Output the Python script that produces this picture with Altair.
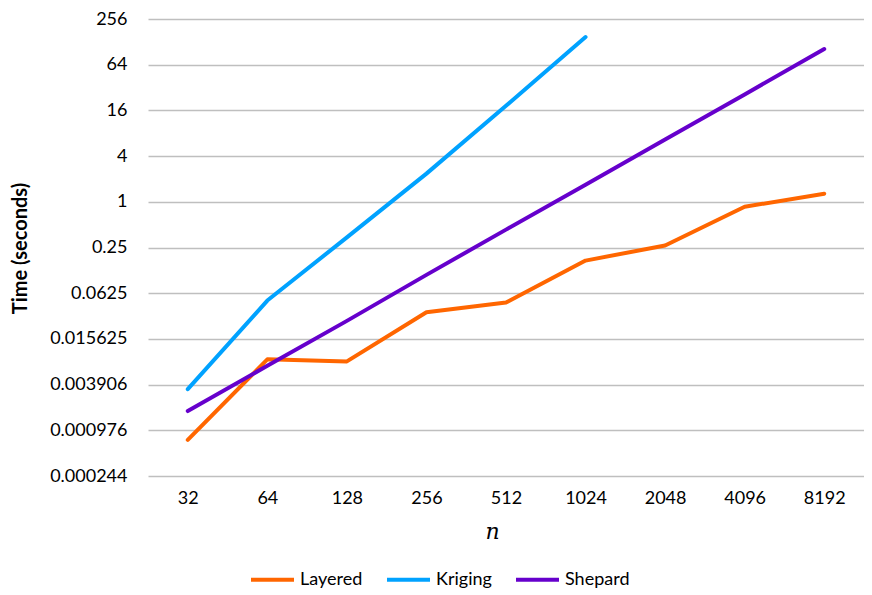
import altair as alt
import pandas as pd

n_values = ["32", "64", "128", "256", "512", "1024", "2048", "4096", "8192"]
layered = [0.00073, 0.0084, 0.0079, 0.035, 0.047, 0.168, 0.266, 0.86, 1.28]
kriging = [0.0034, 0.050, 0.34, 2.35, 18.4, 148, None, None, None]
shepard = [0.00175, 0.0069, 0.027, 0.109, 0.43, 1.68, 6.6, 26, 103]
series_names = ["Layered", "Kriging", "Shepard"]
series_colors = ["#FF6600", "#00A2FF", "#6600CC"]
tick_values = [2.0 ** k for k in range(-12, 9, 2)]
tick_labels = ["0.000244", "0.000976", "0.003906", "0.015625", "0.0625",
               "0.25", "1", "4", "16", "64", "256"]

rows = []
for name, vals in zip(series_names, [layered, kriging, shepard]):
    for n, v in zip(n_values, vals):
        if v is not None:
            rows.append({"n": n, "time": v, "series": name})
df = pd.DataFrame(rows)

expr = ""
for v, l in zip(tick_values, tick_labels):
    expr += f"abs(datum.value - {v!r}) < {v * 1e-6!r} ? '{l}' : "
expr += "''"

chart = alt.Chart(df).mark_line(strokeWidth=4, strokeJoin="round", strokeCap="round").encode(
    x=alt.X("n:O", sort=n_values,
            scale=alt.Scale(type="point", padding=0.5),
            axis=alt.Axis(title="n", labelAngle=0, domain=False, ticks=False,
                          labelPadding=13, titleFont="DejaVu Serif",
                          titleFontStyle="italic", titleFontWeight="normal",
                          titleFontSize=22, titleX=344, titleY=55,
                          titleBaseline="middle", grid=False)),
    y=alt.Y("time:Q",
            scale=alt.Scale(type="log", base=2, domain=[2.0 ** -12, 2.0 ** 8], nice=False),
            axis=alt.Axis(title="Time (seconds)", values=tick_values, labelExpr=expr,
                          domain=False, ticks=False, labelPadding=21,
                          grid=True, gridColor="#BFBFBF", gridWidth=1.3,
                          titleFontSize=20, titleFontWeight="bold",
                          titleX=-128, titleY=229, titleAngle=270,
                          titleAlign="center", titleBaseline="middle")),
    color=alt.Color("series:N",
                    scale=alt.Scale(domain=series_names, range=series_colors),
                    legend=alt.Legend(title=None, orient="none", direction="horizontal",
                                      legendX=101, legendY=537,
                                      symbolType="stroke", symbolSize=1849,
                                      symbolStrokeWidth=4, labelOffset=4,
                                      columnPadding=16, labelFontSize=18,
                                      labelFont="Lato", labelColor="#000000")),
).properties(
    width=716, height=457,
    autosize=alt.AutoSizeParams(type="none"),
    padding={"left": 140, "top": 11, "right": 0, "bottom": 117},
).configure_axis(
    labelFont="Lato", labelFontSize=18, labelColor="#000000",
    titleFont="Lato", titleColor="#000000",
).configure_view(stroke=None)

chart.save("out.html", embed_options={"renderer": "svg", "actions": False})
